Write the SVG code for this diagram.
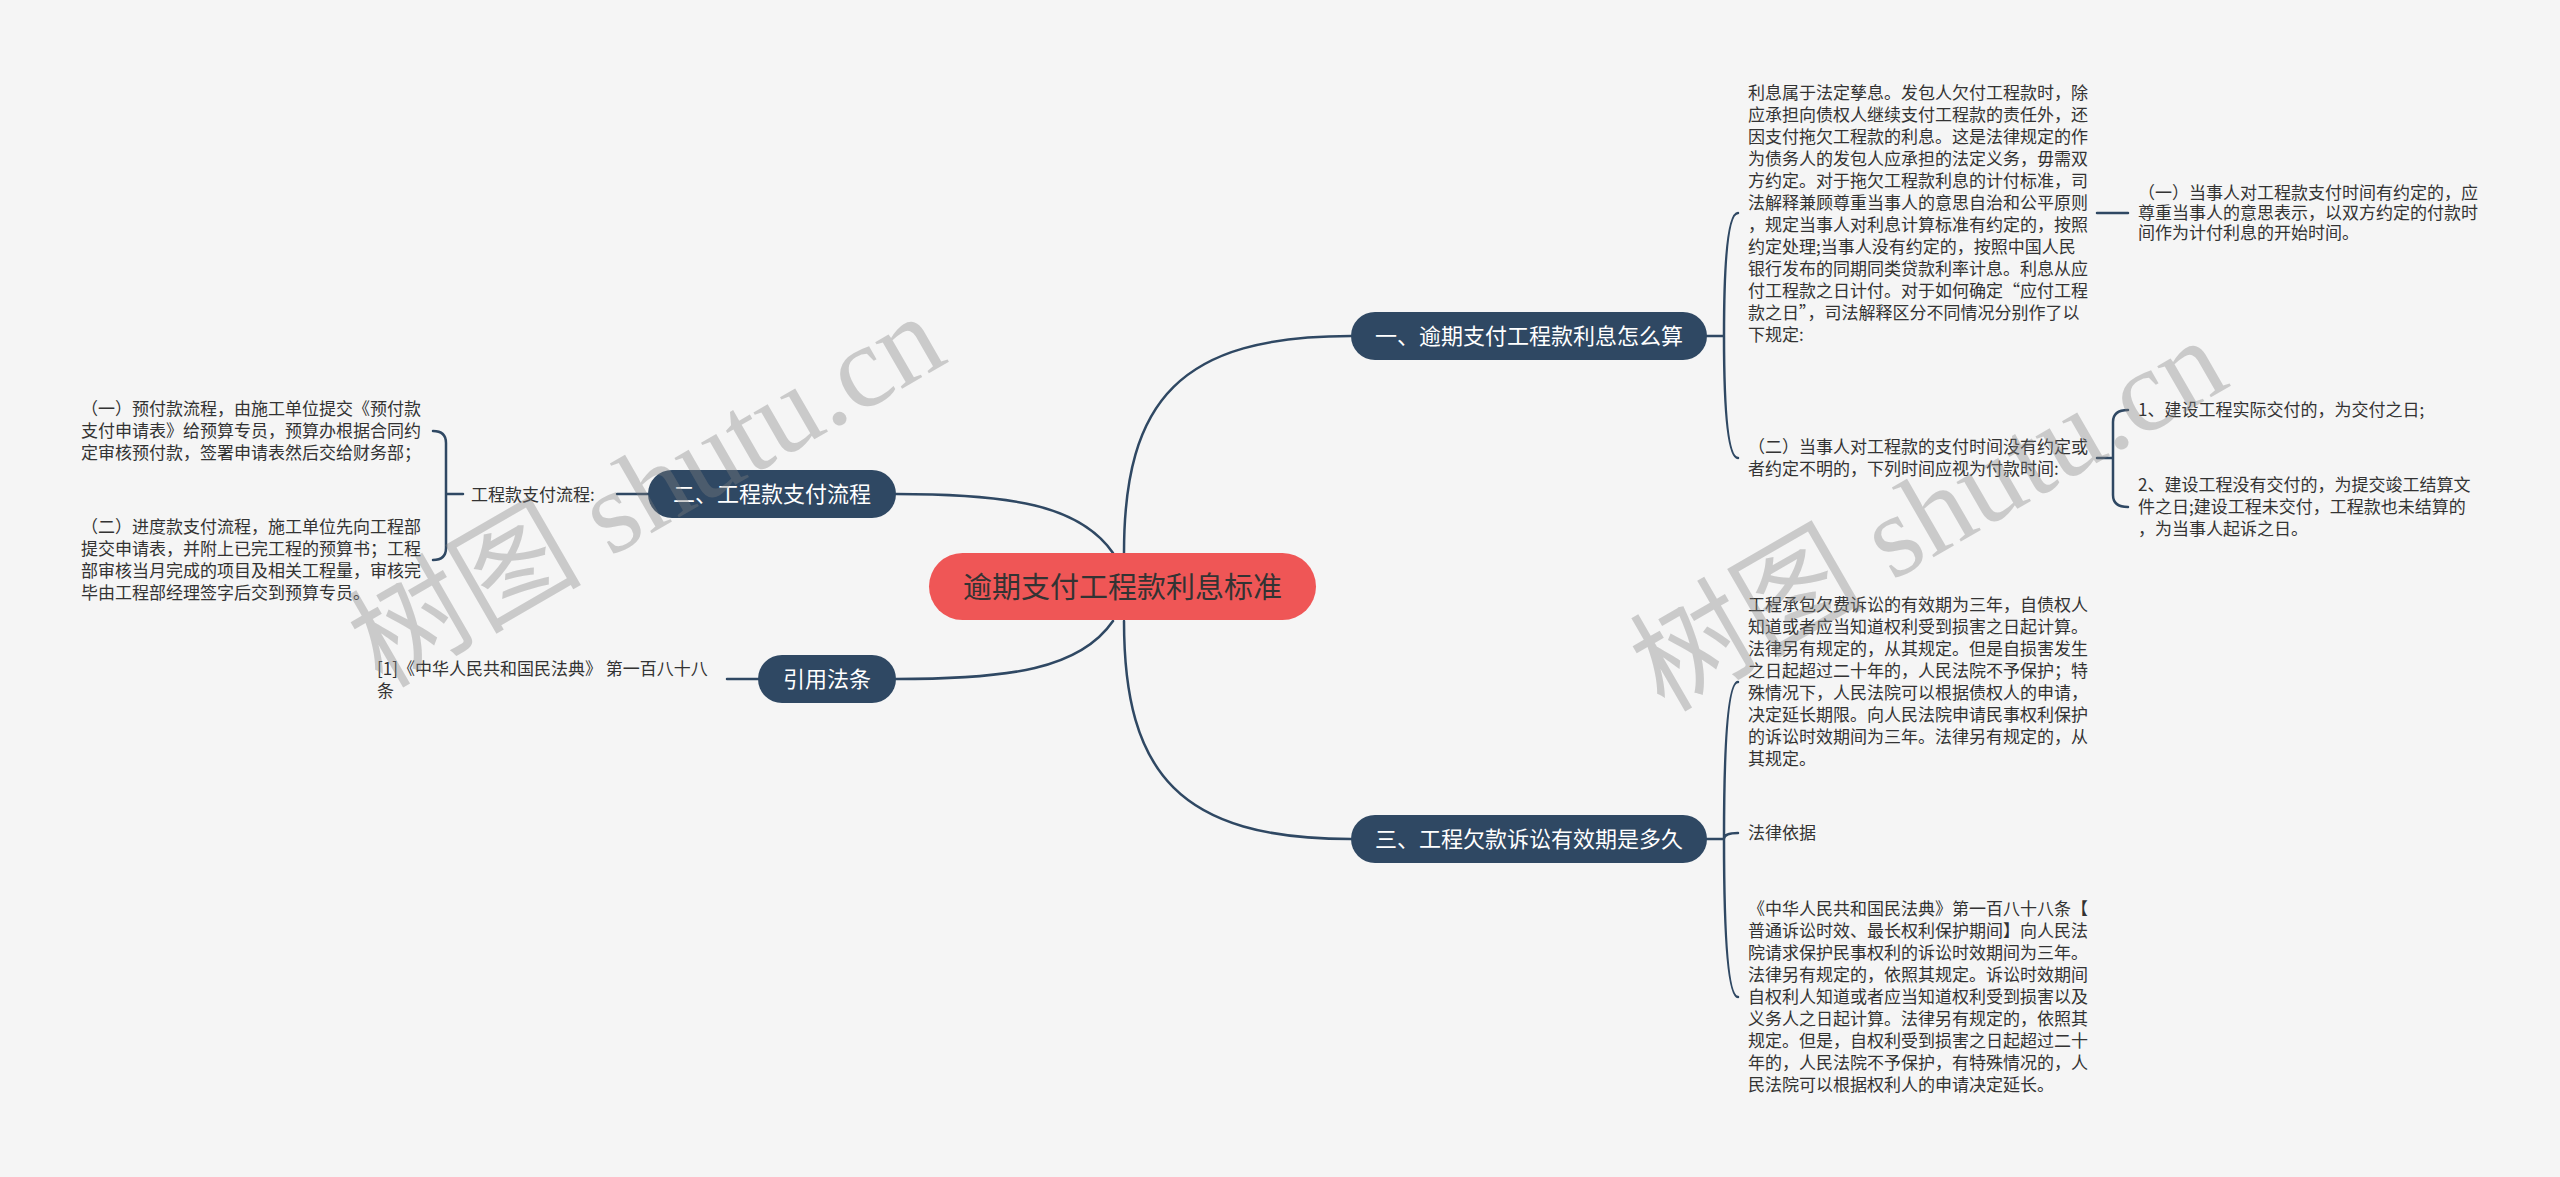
<svg xmlns="http://www.w3.org/2000/svg" width="2560" height="1177" viewBox="0 0 2560 1177">
<style>
.edge{fill:none;stroke:#2f4863;stroke-width:2.5;stroke-linecap:round}
.box{fill:#2f4863}
.rootbox{fill:#ef5656}
.nt{font-family:"Noto Sans CJK SC",sans-serif;font-size:22px;fill:#ffffff;text-anchor:middle}
.rt{font-family:"Noto Sans CJK SC",sans-serif;font-size:29px;fill:#333333;text-anchor:middle}
.t{font-family:"Noto Sans CJK SC",sans-serif;font-size:17px;fill:#333333}
.wm{font-family:"Liberation Serif","Noto Sans CJK SC",serif;font-size:117px;fill:#808080;fill-opacity:0.36}
</style>
<rect x="0" y="0" width="2560" height="1177" fill="#f5f5f5"/>

<g id="connectors">
<path class="edge" d="M1124,553 C1124,400 1180,336 1351,336"/>
<path class="edge" d="M1124,621 C1124,774 1180,839 1351,839"/>
<path class="edge" d="M1113,553 C1080,505 1010,494 896,494"/>
<path class="edge" d="M1113,621 C1080,669 1010,679 896,679"/>
<path class="edge" d="M1707,336 H1724 M1724,336 Q1724,213 1738,213 M1724,336 Q1724,458 1738,458"/>
<path class="edge" d="M2097,213 H2128"/>
<path class="edge" d="M2097,458 H2113 M2113,458 V422 Q2113,410 2128,410 M2113,458 V495 Q2113,507 2128,507"/>
<path class="edge" d="M1707,839 H1724 M1724,839 Q1724,682 1738,682 M1724,839 Q1724,833 1738,833 M1724,839 Q1724,997 1738,997"/>
<path class="edge" d="M648,494 H617"/>
<path class="edge" d="M463,494 H446 M446,494 V443 Q446,431 433,431 M446,494 V548 Q446,560 433,560"/>
<path class="edge" d="M758,679 H727"/>
</g>

<g id="root">
<rect class="rootbox" x="929" y="553" width="387" height="67" rx="33.5"/>
<text class="rt" x="1122.5" y="598">逾期支付工程款利息标准</text>
</g>

<g id="n1">
<rect class="box" x="1351" y="312" width="356" height="48" rx="24"/>
<text class="nt" x="1529" y="344">一、逾期支付工程款利息怎么算</text>
</g>
<g id="n1c1">
<text class="t"><tspan x="1748" y="99">利息属于法定孳息。发包人欠付工程款时，除</tspan><tspan x="1748" y="121">应承担向债权人继续支付工程款的责任外，还</tspan><tspan x="1748" y="143">因支付拖欠工程款的利息。这是法律规定的作</tspan><tspan x="1748" y="165">为债务人的发包人应承担的法定义务，毋需双</tspan><tspan x="1748" y="187">方约定。对于拖欠工程款利息的计付标准，司</tspan><tspan x="1748" y="209">法解释兼顾尊重当事人的意思自治和公平原则</tspan><tspan x="1748" y="231">，规定当事人对利息计算标准有约定的，按照</tspan><tspan x="1748" y="253">约定处理;当事人没有约定的，按照中国人民</tspan><tspan x="1748" y="275">银行发布的同期同类贷款利率计息。利息从应</tspan><tspan x="1748" y="297">付工程款之日计付。对于如何确定“应付工程</tspan><tspan x="1748" y="319">款之日”，司法解释区分不同情况分别作了以</tspan><tspan x="1748" y="341">下规定:</tspan></text>
</g>
<g id="n1c1a">
<text class="t"><tspan x="2138" y="199">（一）当事人对工程款支付时间有约定的，应</tspan><tspan x="2138" y="219">尊重当事人的意思表示，以双方约定的付款时</tspan><tspan x="2138" y="239">间作为计付利息的开始时间。</tspan></text>
</g>
<g id="n1c2">
<text class="t"><tspan x="1748" y="453">（二）当事人对工程款的支付时间没有约定或</tspan><tspan x="1748" y="475">者约定不明的，下列时间应视为付款时间:</tspan></text>
</g>
<g id="n1c2a">
<text class="t" x="2138" y="416">1、建设工程实际交付的，为交付之日;</text>
</g>
<g id="n1c2b">
<text class="t"><tspan x="2138" y="491">2、建设工程没有交付的，为提交竣工结算文</tspan><tspan x="2138" y="513">件之日;建设工程未交付，工程款也未结算的</tspan><tspan x="2138" y="535">，为当事人起诉之日。</tspan></text>
</g>

<g id="n3">
<rect class="box" x="1351" y="815" width="356" height="48" rx="24"/>
<text class="nt" x="1529" y="847">三、工程欠款诉讼有效期是多久</text>
</g>
<g id="n3c1">
<text class="t"><tspan x="1748" y="611">工程承包欠费诉讼的有效期为三年，自债权人</tspan><tspan x="1748" y="633">知道或者应当知道权利受到损害之日起计算。</tspan><tspan x="1748" y="655">法律另有规定的，从其规定。但是自损害发生</tspan><tspan x="1748" y="677">之日起超过二十年的，人民法院不予保护；特</tspan><tspan x="1748" y="699">殊情况下，人民法院可以根据债权人的申请，</tspan><tspan x="1748" y="721">决定延长期限。向人民法院申请民事权利保护</tspan><tspan x="1748" y="743">的诉讼时效期间为三年。法律另有规定的，从</tspan><tspan x="1748" y="765">其规定。</tspan></text>
</g>
<g id="n3c2">
<text class="t" x="1748" y="839">法律依据</text>
</g>
<g id="n3c3">
<text class="t"><tspan x="1748" y="915">《中华人民共和国民法典》第一百八十八条【</tspan><tspan x="1748" y="937">普通诉讼时效、最长权利保护期间】向人民法</tspan><tspan x="1748" y="959">院请求保护民事权利的诉讼时效期间为三年。</tspan><tspan x="1748" y="981">法律另有规定的，依照其规定。诉讼时效期间</tspan><tspan x="1748" y="1003">自权利人知道或者应当知道权利受到损害以及</tspan><tspan x="1748" y="1025">义务人之日起计算。法律另有规定的，依照其</tspan><tspan x="1748" y="1047">规定。但是，自权利受到损害之日起超过二十</tspan><tspan x="1748" y="1069">年的，人民法院不予保护，有特殊情况的，人</tspan><tspan x="1748" y="1091">民法院可以根据权利人的申请决定延长。</tspan></text>
</g>

<g id="n2">
<rect class="box" x="648" y="470" width="248" height="48" rx="24"/>
<text class="nt" x="772" y="502">二、工程款支付流程</text>
</g>
<g id="n2c1">
<text class="t" x="471" y="501">工程款支付流程:</text>
</g>
<g id="n2c1a">
<text class="t"><tspan x="81" y="415">（一）预付款流程，由施工单位提交《预付款</tspan><tspan x="81" y="437">支付申请表》给预算专员，预算办根据合同约</tspan><tspan x="81" y="459">定审核预付款，签署申请表然后交给财务部；</tspan></text>
</g>
<g id="n2c1b">
<text class="t"><tspan x="81" y="533">（二）进度款支付流程，施工单位先向工程部</tspan><tspan x="81" y="555">提交申请表，并附上已完工程的预算书；工程</tspan><tspan x="81" y="577">部审核当月完成的项目及相关工程量，审核完</tspan><tspan x="81" y="599">毕由工程部经理签字后交到预算专员。</tspan></text>
</g>

<g id="n4">
<rect class="box" x="758" y="655" width="138" height="48" rx="24"/>
<text class="nt" x="827" y="687">引用法条</text>
</g>
<g id="n4c1">
<text class="t"><tspan x="377" y="675">[1]《中华人民共和国民法典》 第一百八十八</tspan><tspan x="377" y="697">条</tspan></text>
</g>

<g id="watermarks">
<text class="wm" x="382" y="689" transform="rotate(-30 382 689)">树图 shutu.cn</text>
<text class="wm" x="1664" y="713" transform="rotate(-30 1664 713)">树图 shutu.cn</text>
</g>
</svg>
